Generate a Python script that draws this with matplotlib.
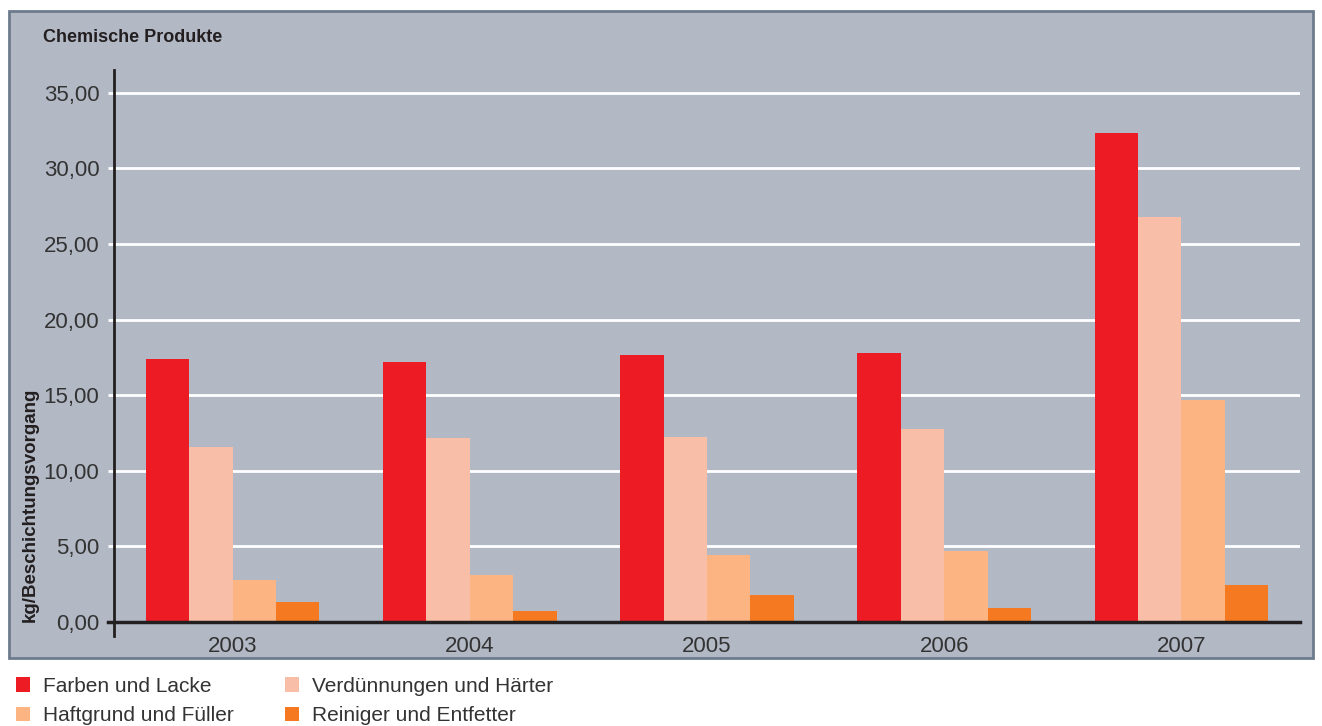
import matplotlib.pyplot as plt
from matplotlib.patches import Rectangle

# Daten
jahre = ['2003', '2004', '2005', '2006', '2007']
farben_lacke = [17.40, 17.20, 17.65, 17.80, 32.35]
verduennungen = [11.55, 12.15, 12.20, 12.75, 26.75]
haftgrund = [2.80, 3.10, 4.40, 4.70, 14.65]
reiniger = [1.30, 0.75, 1.75, 0.95, 2.45]

serien = ['Farben und Lacke', 'Verdünnungen und Härter',
          'Haftgrund und Füller', 'Reiniger und Entfetter']
werte = [farben_lacke, verduennungen, haftgrund, reiniger]
farben = ['#ed1c24', '#f9bea8', '#fbb482', '#f47920']

bg = '#b2b9c5'
text_col = '#333333'
plt.rcParams['font.family'] = ['Liberation Sans', 'DejaVu Sans']

fig = plt.figure(figsize=(13.22, 7.26), dpi=100)
fig.patch.set_facecolor('white')

# grauer Hintergrundkasten
fig.patches.append(Rectangle((9 / 1322, 1 - 658 / 726), 1304 / 1322, 647 / 726,
                             transform=fig.transFigure, facecolor=bg,
                             edgecolor='#6d7b8d', linewidth=2, zorder=-1))

ax = fig.add_axes([114 / 1322, 1 - 636 / 726, 1186 / 1322, 566 / 726])
ax.set_facecolor('none')
ax.set_zorder(2)

breite = 0.183
x = list(range(len(jahre)))
balken = []
for i, (name, w, c) in enumerate(zip(serien, werte, farben)):
    pos = [xi + (i - 1.5) * breite for xi in x]
    b = ax.bar(pos, w, width=breite, color=c, label=name, zorder=3)
    balken.append(b)

ax.set_xlim(-0.5, 4.5)
ax.set_ylim(-0.93, 36.5)
ax.set_yticks([0, 5, 10, 15, 20, 25, 30, 35])
ax.set_yticklabels(['0,00', '5,00', '10,00', '15,00', '20,00', '25,00', '30,00', '35,00'])
ax.set_xticks(x)
ax.set_xticklabels(jahre)
ax.tick_params(axis='y', length=4.5, width=2, color='white', labelsize=16,
               labelcolor=text_col, pad=6)
ax.tick_params(axis='x', length=0, labelsize=16, labelcolor=text_col, pad=0)

ax.grid(axis='y', color='white', linewidth=2, zorder=1)
for s in ['top', 'right', 'bottom']:
    ax.spines[s].set_visible(False)
ax.spines['left'].set_color('#231f20')
ax.spines['left'].set_linewidth(2)
ax.axhline(0, xmin=-0.005, color='#231f20', linewidth=2.5, zorder=4, clip_on=False)

fig.text(43 / 1322, 1 - 37 / 726, 'Chemische Produkte',
         fontweight='bold', fontsize=13, color='#231f20', va='center', ha='left')
fig.text(30 / 1322, 1 - 622 / 726, 'kg/Beschichtungsvorgang',
         fontweight='bold', fontsize=13.5, color='#231f20', rotation=90,
         va='bottom', ha='center')

handles = [balken[0], balken[2], balken[1], balken[3]]
labels = [serien[0], serien[2], serien[1], serien[3]]
fig.legend(handles, labels, ncol=2, loc='upper left',
           bbox_to_anchor=(-3 / 1322, 1 - 658 / 726), frameon=False,
           fontsize=15, labelcolor=text_col, handlelength=0.7, handleheight=0.7,
           handletextpad=0.6, columnspacing=2.45, labelspacing=0.5)

fig.savefig('out.png', dpi=100)
